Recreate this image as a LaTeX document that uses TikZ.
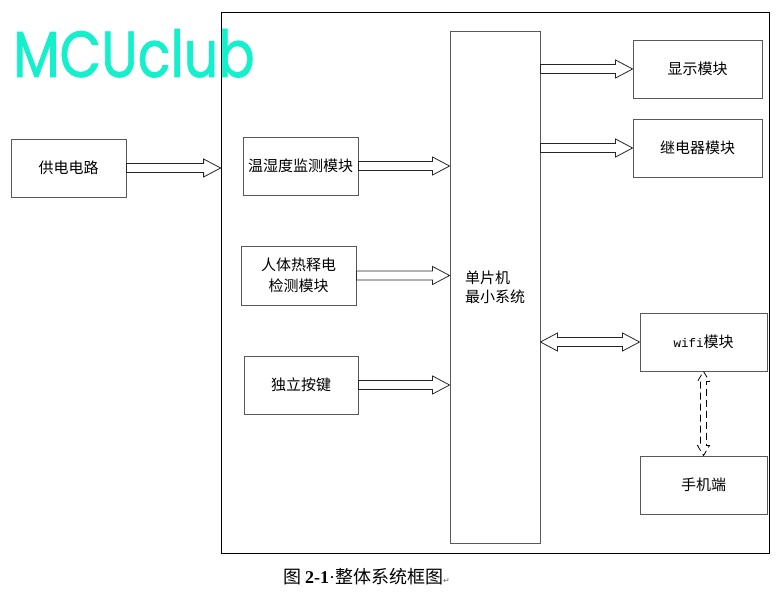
\documentclass[tikz,border=0pt]{standalone}
\usepackage{fontspec}
\usepackage{graphicx}
\setmainfont{Noto Sans CJK SC}
\newfontfamily\serifrm{Liberation Serif}
\newfontfamily\monowifi{Liberation Mono}
\newfontfamily\logofont{Poppins}[FakeBold=1.2]
\newfontfamily\symfont{DejaVu Sans}
\usetikzlibrary{calc}
\definecolor{logocyan}{RGB}{20,240,204}

\tikzset{
  arrshaft/.store in=\arrS, arrhead/.store in=\arrH, arrlen/.store in=\arrL,
  arrshaft=4.5pt, arrhead=9pt, arrlen=17pt,
  box/.style={draw=black!65, line width=0.9pt, minimum width=115pt, minimum height=58pt,
    inner sep=0pt, align=center, font=\fontsize{15}{21}\selectfont},
  fat/.style={draw=black!85, line width=0.8pt, fill=white, to path={
    ($(\tikztostart)!\arrS!90:(\tikztotarget)$)
    -- ($(\tikztotarget)!\arrL!(\tikztostart)!\arrS!90:(\tikztotarget)$)
    -- ($(\tikztotarget)!\arrL!(\tikztostart)!\arrH!90:(\tikztotarget)$)
    -- (\tikztotarget)
    -- ($(\tikztotarget)!\arrL!(\tikztostart)!\arrH!-90:(\tikztotarget)$)
    -- ($(\tikztotarget)!\arrL!(\tikztostart)!\arrS!-90:(\tikztotarget)$)
    -- ($(\tikztostart)!\arrS!-90:(\tikztotarget)$) -- cycle}},
  fatboth/.style={draw=black!85, line width=0.8pt, fill=white, to path={
    (\tikztostart)
    -- ($(\tikztostart)!\arrL!(\tikztotarget)!\arrH!90:(\tikztotarget)$)
    -- ($(\tikztostart)!\arrL!(\tikztotarget)!\arrS!90:(\tikztotarget)$)
    -- ($(\tikztotarget)!\arrL!(\tikztostart)!\arrS!90:(\tikztotarget)$)
    -- ($(\tikztotarget)!\arrL!(\tikztostart)!\arrH!90:(\tikztotarget)$)
    -- (\tikztotarget)
    -- ($(\tikztotarget)!\arrL!(\tikztostart)!\arrH!-90:(\tikztotarget)$)
    -- ($(\tikztotarget)!\arrL!(\tikztostart)!\arrS!-90:(\tikztotarget)$)
    -- ($(\tikztostart)!\arrL!(\tikztotarget)!\arrS!-90:(\tikztotarget)$)
    -- ($(\tikztostart)!\arrL!(\tikztotarget)!\arrH!-90:(\tikztotarget)$)
    -- cycle}},
}

\begin{document}
\begin{tikzpicture}[x=1pt, y=-1pt]
\useasboundingbox (0,0) rectangle (779,593);
\node[draw, line width=0.8pt, minimum width=548pt, minimum height=541pt, inner sep=0pt] (frame) at (495,282.5) {};
\node[anchor=base west, inner sep=0pt, text=logocyan, font=\logofont\fontsize{65}{65}\selectfont,
  xscale=0.83, transform shape] (logo) at (13,77) {MCUclub};
% left side
\node[box] (power) at (68.5,168) {供电电路};
\node[box] (th) at (300.5,166) {温湿度监测模块};
\node[box, minimum height=59pt] (pir) at (298.5,275.5) {人体热释电\\检测模块};
\node[box, minimum width=114pt] (key) at (301,385) {独立按键};
\node[box, minimum width=90pt, minimum height=512pt, align=left, font=\fontsize{15}{19}\selectfont] (mcu) at (495,287) {单片机\\最小系统};
% right side
\node[box, minimum width=129pt] (disp) at (697.5,69) {显示模块};
\node[box, minimum width=129pt] (relay) at (697.5,148) {继电器模块};
\node[box, minimum width=127pt] (wifi) at (703.5,342) {{\monowifi\fontsize{12.5}{15}\selectfont wifi}模块};
\node[box, minimum width=127pt] (phone) at (703.5,485) {手机端};
% arrows
\draw[fat] (power.east) to (power.east -| frame.west);
\draw[fat] (th.east) to (th.east -| mcu.west);
\draw[fat] (pir.east) to (pir.east -| mcu.west);
\draw[fat] (key.east) to (key.east -| mcu.west);
\draw[fat] (disp.west -| mcu.east) to (disp.west);
\draw[fat] (relay.west -| mcu.east) to (relay.west);
\draw[fatboth] (wifi.west -| mcu.east) to (wifi.west);
\draw[fatboth, draw=black, dash pattern=on 7pt off 4pt, arrshaft=3pt, arrhead=6pt, arrlen=10pt] (wifi.south) to (phone.north);
% caption
\node[anchor=base west, inner sep=0pt, font=\fontsize{18}{18}\selectfont] (cap) at (283,583)
  {图 {\serifrm\bfseries 2-1}{\serifrm ·}整体系统框图{\symfont\fontsize{8}{8}\selectfont\color{black!60}↵}};
\end{tikzpicture}
\end{document}
